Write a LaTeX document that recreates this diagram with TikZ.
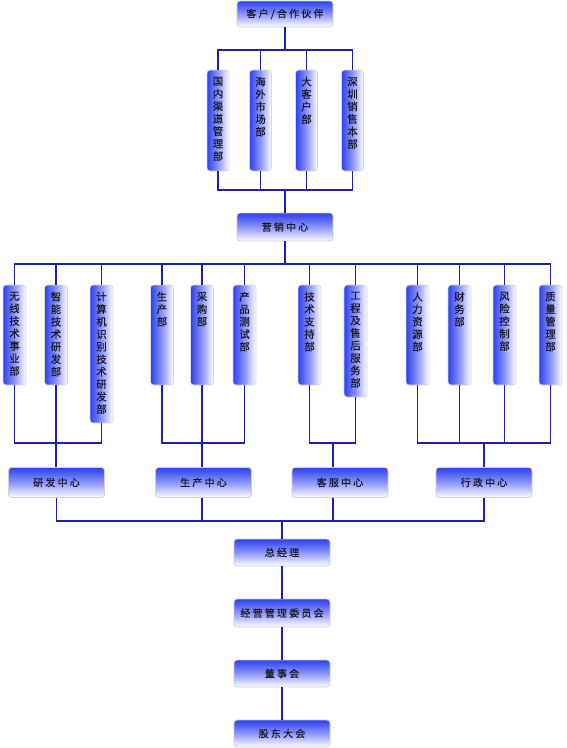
\documentclass[tikz,border=0pt]{standalone}
\usepackage{fontspec}
\newfontfamily\cjk[LetterSpace=22,FakeBold=0.35]{Noto Sans CJK SC}
\newfontfamily\cjkv[FakeBold=0.35]{Noto Sans CJK SC}
\definecolor{boxblue}{RGB}{45,65,240}
\definecolor{boxmid}{RGB}{140,150,248}
\definecolor{linecol}{RGB}{30,30,170}
\definecolor{txt}{RGB}{25,25,35}
\tikzset{
  hbox/.style={rounded corners=3pt, draw=black!18, line width=0.8pt,
    top color=boxblue, bottom color=white, middle color=boxmid,
    minimum width=96pt, minimum height=28pt, inner sep=0pt,
    font=\cjk\fontsize{10}{12}\selectfont, text=txt},
  vbox/.style={rounded corners=3pt, draw=black!15, line width=0.8pt,
    left color=boxblue, right color=white, middle color=boxmid,
    minimum width=23pt, inner sep=0pt},
  vtext/.style={anchor=north, inner sep=0pt, align=center,
    font=\cjkv\fontsize{10.5}{12.5}\selectfont, text=txt},
  conn/.style={draw=linecol, line width=1.3pt},
}
\begin{document}
\begin{tikzpicture}[x=1pt,y=-1pt]
\useasboundingbox (0,0) rectangle (566,748);
\fill[white] (0,0) rectangle (566,748);
% bus coordinates
\coordinate (b1) at (285,50);
\coordinate (b2) at (285,190);
\coordinate (b3) at (285,264);
\coordinate (b4) at (285,443);
\coordinate (b5) at (285,521);
\coordinate (s3) at (333,443);
% horizontal boxes
\node[hbox, minimum height=26pt] (c0) at (285,14) {客户/合作伙伴};
\node[hbox] (yx) at (285,227) {营销中心};
\node[hbox, minimum height=30pt] (yf) at (56.5,482.5) {研发中心};
\node[hbox, minimum height=30pt] (sc) at (203.5,482.5) {生产中心};
\node[hbox, minimum height=30pt] (kf) at (340,482.5) {客服中心};
\node[hbox, minimum height=30pt] (xz) at (484,482.5) {行政中心};
\node[hbox, minimum height=27pt] (zj) at (282,552.5) {总经理};
\node[hbox] (jy) at (282,613) {经营管理委员会};
\node[hbox, minimum height=27pt] (ds) at (282,673.5) {董事会};
\node[hbox, minimum height=27pt] (gd) at (282,733.5) {股东大会};
% row 1 vertical boxes
\node[vbox, minimum width=22pt, minimum height=101pt] (m1) at (218,120.5) {};
\node[vbox, minimum width=22pt, minimum height=101pt] (m2) at (260.5,120.5) {};
\node[vbox, minimum width=22pt, minimum height=101pt] (m3) at (306.5,120.5) {};
\node[vbox, minimum width=22pt, minimum height=101pt] (m4) at (352.5,120.5) {};
\node[vtext] (tm1) at ([yshift=-7pt]m1.north) {国\\内\\渠\\道\\管\\理\\部};
\node[vtext] (tm2) at ([yshift=-7pt]m2.north) {海\\外\\市\\场\\部};
\node[vtext] (tm3) at ([yshift=-7pt]m3.north) {大\\客\\户\\部};
\node[vtext] (tm4) at ([yshift=-7pt]m4.north) {深\\圳\\销\\售\\本\\部};
% row 2 vertical boxes
\node[vbox, minimum height=100pt] (d1) at (14.5,335) {};
\node[vbox, minimum height=100pt] (d2) at (56,335) {};
\node[vbox, minimum height=138pt] (d3) at (101.5,354) {};
\node[vbox, minimum height=100pt] (d4) at (162,335) {};
\node[vbox, minimum height=100pt] (d5) at (202,335) {};
\node[vbox, minimum height=100pt] (d6) at (244.5,335) {};
\node[vbox, minimum height=100pt] (d7) at (309.5,335) {};
\node[vbox, minimum height=112pt] (d8) at (355.5,341) {};
\node[vbox, minimum height=100pt] (d9) at (417.5,335) {};
\node[vbox, minimum height=100pt] (d10) at (459.5,335) {};
\node[vbox, minimum height=100pt] (d11) at (504.5,335) {};
\node[vbox, minimum height=100pt] (d12) at (550.5,335) {};
\node[vtext] (t1) at ([yshift=-7pt]d1.north) {无\\线\\技\\术\\事\\业\\部};
\node[vtext] (t2) at ([yshift=-7pt]d2.north) {智\\能\\技\\术\\研\\发\\部};
\node[vtext] (t3) at ([yshift=-7pt]d3.north) {计\\算\\机\\识\\别\\技\\术\\研\\发\\部};
\node[vtext] (t4) at ([yshift=-7pt]d4.north) {生\\产\\部};
\node[vtext] (t5) at ([yshift=-7pt]d5.north) {采\\购\\部};
\node[vtext] (t6) at ([yshift=-7pt]d6.north) {产\\品\\测\\试\\部};
\node[vtext] (t7) at ([yshift=-7pt]d7.north) {技\\术\\支\\持\\部};
\node[vtext] (t8) at ([yshift=-7pt]d8.north) {工\\程\\及\\售\\后\\服\\务\\部};
\node[vtext] (t9) at ([yshift=-7pt]d9.north) {人\\力\\资\\源\\部};
\node[vtext] (t10) at ([yshift=-7pt]d10.north) {财\\务\\部};
\node[vtext] (t11) at ([yshift=-7pt]d11.north) {风\\险\\控\\制\\部};
\node[vtext] (t12) at ([yshift=-7pt]d12.north) {质\\量\\管\\理\\部};
% connectors: top
\draw[conn] (c0.south) -- (c0.south |- b1);
\draw[conn] (m1.north) |- (m4.north |- b1) -- (m4.north);
\draw[conn] (m2.north) -- (m2.north |- b1);
\draw[conn] (m3.north) -- (m3.north |- b1);
\draw[conn] (m1.south) |- (m4.south |- b2) -- (m4.south);
\draw[conn] (m2.south) -- (m2.south |- b2);
\draw[conn] (m3.south) -- (m3.south |- b2);
\draw[conn] (yx.north) -- (yx.north |- b2);
% marketing to departments
\draw[conn] (yx.south) -- (yx.south |- b3);
\draw[conn] (d1.north) |- (d12.north |- b3) -- (d12.north);
\foreach \i in {2,...,11} { \draw[conn] (d\i.north) -- (d\i.north |- b3); }
% groups
\draw[conn] (d1.south) |- (d3.south |- b4) -- (d3.south);
\draw[conn] (d2.south) -- (d2.south |- yf.north);
\draw[conn] (d4.south) |- (d6.south |- b4) -- (d6.south);
\draw[conn] (d5.south) -- (d5.south |- sc.north);
\draw[conn] (d7.south) |- (d8.south |- b4) -- (d8.south);
\draw[conn] (s3) -- (s3 |- kf.north);
\draw[conn] (d9.south) |- (d12.south |- b4) -- (d12.south);
\draw[conn] (d10.south) -- (d10.south |- b4);
\draw[conn] (d11.south) -- (d11.south |- b4);
\draw[conn] (xz.north) -- (xz.north |- b4);
% centres to general manager
\draw[conn] (yf.south) |- (xz.south |- b5) -- (xz.south);
\draw[conn] (d5.south |- sc.south) -- (d5.south |- b5);
\draw[conn] (s3 |- kf.south) -- (s3 |- b5);
\draw[conn] (zj.north) -- (zj.north |- b5);
\draw[conn] (zj.south) -- (jy.north);
\draw[conn] (jy.south) -- (ds.north);
\draw[conn] (ds.south) -- (gd.north);
\end{tikzpicture}
\end{document}
